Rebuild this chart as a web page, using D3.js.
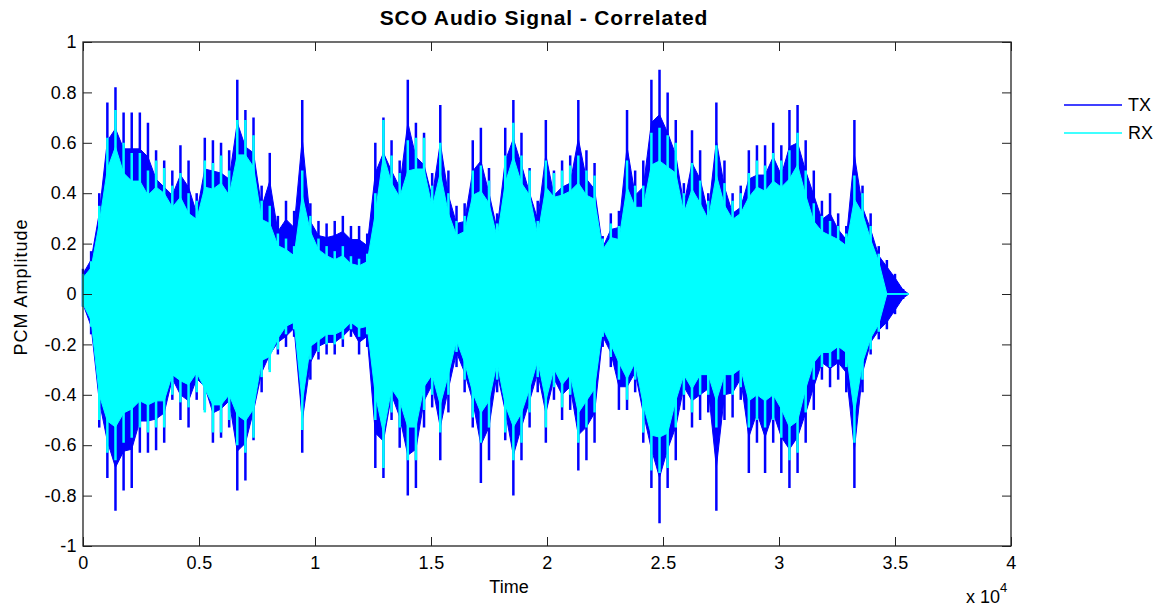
<!DOCTYPE html>
<meta charset="utf-8">
<style>
body { margin: 0; background: #fff; }
text { font-family: "Liberation Sans", Arial, sans-serif; fill: #000; }
.tick line { stroke: #222; }
.tick text { font-size: 18px; letter-spacing: 0.4px; }
</style>
<svg id="chart" width="1162" height="610"></svg>
<script src="https://cdn.jsdelivr.net/npm/d3@7"></script>
<script>
// envelope of the signal, one point every 350 samples (peak max / min per bin)
var samples = d3.range(0, 35351, 350).concat([35600]);

var txMax = [0.1, 0.17, 0.4, 0.76, 0.82, 0.72, 0.72, 0.72, 0.68, 0.57,
  0.53, 0.49, 0.59, 0.53, 0.4, 0.62, 0.61, 0.6, 0.57, 0.85,
  0.73, 0.7, 0.43, 0.56, 0.31, 0.37, 0.33, 0.77, 0.36, 0.29,
  0.28, 0.29, 0.31, 0.27, 0.27, 0.24, 0.6, 0.7, 0.61, 0.53,
  0.85, 0.68, 0.64, 0.48, 0.75, 0.49, 0.35, 0.36, 0.61, 0.66,
  0.5, 0.32, 0.66, 0.77, 0.64, 0.5, 0.37, 0.69, 0.49, 0.53,
  0.55, 0.77, 0.57, 0.52, 0.23, 0.32, 0.33, 0.73, 0.49, 0.53,
  0.85, 0.89, 0.8, 0.69, 0.44, 0.65, 0.57, 0.4, 0.76, 0.53,
  0.4, 0.43, 0.57, 0.59, 0.59, 0.68, 0.59, 0.73, 0.75, 0.61,
  0.49, 0.37, 0.4, 0.32, 0.27, 0.69, 0.43, 0.32, 0.19, 0.135,
  0.08, 0.02, 0];

var txMin = [-0.05, -0.16, -0.53, -0.73, -0.86, -0.78, -0.77, -0.63, -0.63, -0.62,
  -0.59, -0.42, -0.5, -0.53, -0.42, -0.46, -0.59, -0.57, -0.53, -0.78,
  -0.74, -0.58, -0.39, -0.3, -0.24, -0.21, -0.17, -0.63, -0.34, -0.26,
  -0.24, -0.24, -0.21, -0.17, -0.24, -0.21, -0.69, -0.73, -0.5, -0.61,
  -0.8, -0.77, -0.53, -0.45, -0.66, -0.47, -0.29, -0.39, -0.53, -0.75,
  -0.66, -0.39, -0.58, -0.8, -0.66, -0.53, -0.39, -0.59, -0.42, -0.5,
  -0.46, -0.7, -0.66, -0.59, -0.21, -0.29, -0.46, -0.46, -0.39, -0.59,
  -0.77, -0.91, -0.77, -0.66, -0.46, -0.53, -0.5, -0.47, -0.86, -0.5,
  -0.49, -0.42, -0.71, -0.59, -0.71, -0.59, -0.71, -0.77, -0.71, -0.59,
  -0.46, -0.34, -0.37, -0.34, -0.39, -0.77, -0.39, -0.24, -0.18, -0.14,
  -0.08, -0.02, 0];

var rxMax = [0.08, 0.13, 0.35, 0.62, 0.73, 0.6, 0.56, 0.56, 0.49, 0.53,
  0.5, 0.43, 0.48, 0.4, 0.37, 0.53, 0.52, 0.55, 0.49, 0.69,
  0.69, 0.63, 0.37, 0.35, 0.24, 0.22, 0.19, 0.49, 0.31, 0.22,
  0.19, 0.17, 0.19, 0.15, 0.14, 0.16, 0.4, 0.69, 0.55, 0.48,
  0.61, 0.62, 0.62, 0.43, 0.6, 0.4, 0.29, 0.31, 0.49, 0.51,
  0.45, 0.28, 0.55, 0.68, 0.55, 0.49, 0.29, 0.53, 0.48, 0.49,
  0.51, 0.55, 0.49, 0.47, 0.22, 0.28, 0.27, 0.53, 0.43, 0.43,
  0.64, 0.66, 0.63, 0.6, 0.4, 0.52, 0.45, 0.37, 0.59, 0.44,
  0.37, 0.4, 0.48, 0.53, 0.51, 0.56, 0.53, 0.57, 0.64, 0.49,
  0.36, 0.31, 0.29, 0.27, 0.24, 0.47, 0.4, 0.27, 0.16, 0,
  0, 0, 0];

var rxMin = [-0.05, -0.13, -0.5, -0.63, -0.66, -0.59, -0.57, -0.53, -0.55, -0.53,
  -0.53, -0.4, -0.43, -0.45, -0.39, -0.47, -0.55, -0.55, -0.5, -0.6,
  -0.63, -0.57, -0.33, -0.31, -0.22, -0.16, -0.14, -0.54, -0.26, -0.23,
  -0.2, -0.2, -0.18, -0.14, -0.17, -0.16, -0.5, -0.69, -0.47, -0.53,
  -0.66, -0.66, -0.46, -0.4, -0.55, -0.4, -0.23, -0.34, -0.49, -0.59,
  -0.53, -0.34, -0.55, -0.66, -0.59, -0.47, -0.33, -0.53, -0.37, -0.45,
  -0.4, -0.59, -0.53, -0.47, -0.17, -0.25, -0.34, -0.42, -0.34, -0.55,
  -0.7, -0.71, -0.69, -0.53, -0.4, -0.47, -0.4, -0.4, -0.53, -0.4,
  -0.4, -0.37, -0.53, -0.5, -0.53, -0.5, -0.57, -0.66, -0.63, -0.47,
  -0.34, -0.29, -0.29, -0.26, -0.29, -0.59, -0.34, -0.22, -0.15, 0,
  0, 0, 0];

var xTicks = [0, 5000, 10000, 15000, 20000, 25000, 30000, 35000, 40000];
var yTicks = [-1, -0.8, -0.6, -0.4, -0.2, 0, 0.2, 0.4, 0.6, 0.8, 1];
var seriesNames = ["TX", "RX"];
var seriesColors = ["#0000ff", "#00ffff"];

var svg = d3.select("#chart");
var margin = {left: 83, right: 151, top: 42, bottom: 64};
var w = 1162 - margin.left - margin.right,
    h = 610 - margin.top - margin.bottom;

var g = svg.append("g").attr("transform", "translate(" + margin.left + "," + margin.top + ")");

var x = d3.scaleLinear().domain([0, 40000]).range([0, w]);
var y = d3.scaleLinear().domain([-1, 1]).range([h, 0]);

function env(hi, lo) {
  return samples.map(function(s, i) { return {s: s, hi: hi[i], lo: lo[i]}; });
}
var sigs = [env(txMax, txMin), env(rxMax, rxMin)];

// body of each trace: shrunk envelope so the peaks stand out as spikes
var body = d3.area()
  .x(function(d) { return x(d.s); })
  .y0(function(d) { return y(d.lo * 0.8); })
  .y1(function(d) { return y(d.hi * 0.8); });

sigs.forEach(function(sig, k) {
  var c = seriesColors[k];
  var tr = g.append("g").attr("class", "trace");
  tr.append("path")
    .datum(sig)
    .attr("d", body)
    .attr("fill", c)
    .attr("stroke", c)
    .attr("stroke-width", 1);
  // one spike per bin, min to max
  tr.selectAll("line")
    .data(sig)
    .enter().append("line")
      .attr("x1", function(d) { return x(d.s); })
      .attr("x2", function(d) { return x(d.s); })
      .attr("y1", function(d) { return y(d.lo); })
      .attr("y2", function(d) { return y(d.hi); })
      .attr("stroke", c)
      .attr("stroke-width", 2.5);
});
// flat RX line at zero after the signal stops
g.append("line")
  .attr("x1", x(samples[98])).attr("x2", x(samples[samples.length - 1]))
  .attr("y1", y(0)).attr("y2", y(0))
  .attr("stroke", seriesColors[1]).attr("stroke-width", 1.5);

// axes, ticks pointing inward (matlab style)
var fmt = function(d) { return String(+d.toFixed(1)); };
g.append("g").attr("transform", "translate(0," + h + ")")
  .call(d3.axisBottom(x).tickValues(xTicks).tickSize(-9).tickPadding(10)
    .tickFormat(function(d) { return fmt(d / 10000); }));
g.append("g")
  .call(d3.axisTop(x).tickValues(xTicks).tickSize(-9).tickFormat(""));
g.append("g")
  .call(d3.axisLeft(y).tickValues(yTicks).tickSize(-9).tickPadding(6).tickFormat(fmt));
g.append("g").attr("transform", "translate(" + w + ",0)")
  .call(d3.axisRight(y).tickValues(yTicks).tickSize(-9).tickFormat(""));
g.selectAll(".domain").remove();

g.append("rect")
  .attr("width", w).attr("height", h)
  .attr("fill", "none").attr("stroke", "#222").attr("stroke-width", 1.3);

// labels
svg.append("text").attr("x", 544).attr("y", 25).attr("text-anchor", "middle")
  .style("font-size", "21px").style("font-weight", "bold").style("letter-spacing", "0.9px")
  .text("SCO Audio Signal - Correlated");
svg.append("text").attr("x", 509).attr("y", 593).attr("text-anchor", "middle")
  .style("font-size", "18px").text("Time");
svg.append("text").attr("transform", "translate(27,287) rotate(-90)")
  .attr("text-anchor", "middle").style("font-size", "18px").style("letter-spacing", "1px")
  .text("PCM Amplitude");
var sci = svg.append("text").attr("x", 966).attr("y", 603).style("font-size", "18px");
sci.append("tspan").text("x 10");
sci.append("tspan").attr("dy", -11).style("font-size", "13px").text("4");

// legend
var leg = svg.selectAll(".legend")
  .data(seriesNames)
  .enter().append("g")
    .attr("class", "legend")
    .attr("transform", function(d, i) { return "translate(1064," + (105 + i * 28) + ")"; });
leg.append("line").attr("x1", 0).attr("x2", 58)
  .attr("stroke", function(d, i) { return seriesColors[i]; }).attr("stroke-width", 1.5);
leg.append("text").attr("x", 64).attr("dy", "0.35em")
  .style("font-size", "18px").text(function(d) { return d; });
</script>
